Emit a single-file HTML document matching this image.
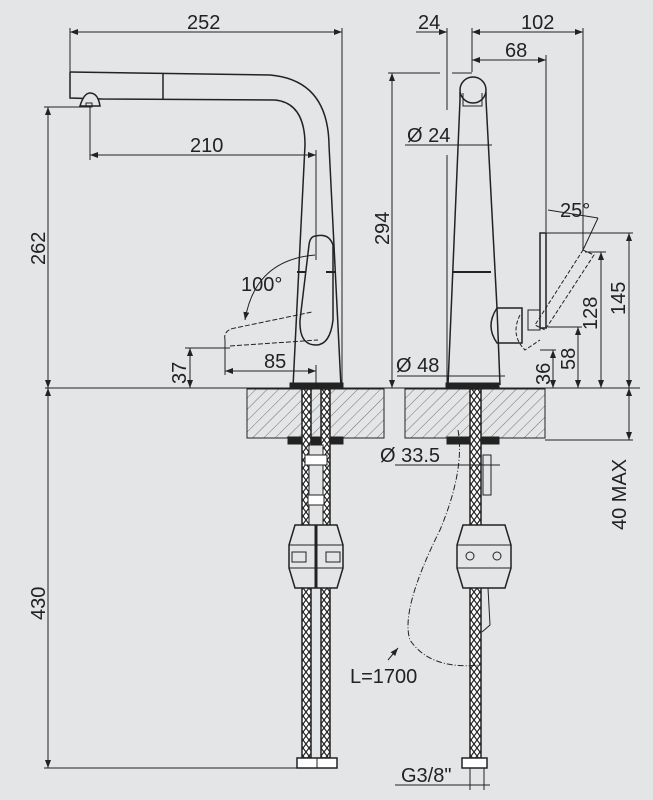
<!DOCTYPE html>
<html><head><meta charset="utf-8"><style>
html,body{margin:0;padding:0;background:#e4e5e7;}
svg{display:block}
text{font-family:"Liberation Sans",sans-serif;font-size:20px;fill:#222}
</style></head><body>
<svg width="653" height="800" viewBox="0 0 653 800" xmlns="http://www.w3.org/2000/svg">
<defs>
<pattern id="h" width="8" height="8" patternUnits="userSpaceOnUse" patternTransform="rotate(45)">
<rect width="8" height="8" fill="#e4e5e7"/><line x1="0" y1="0" x2="0" y2="8" stroke="#555" stroke-width="0.8"/></pattern>
<pattern id="br" width="6" height="8" patternUnits="userSpaceOnUse">
<rect width="6" height="8" fill="#fff"/><path d="M0 0L6 8M6 0L0 8" stroke="#222" stroke-width="1.2"/></pattern>
<marker id="a" markerWidth="8" markerHeight="6" refX="8" refY="3" orient="auto-start-reverse"><path d="M0 0L8 3L0 6z" fill="#222"/></marker>
</defs>
<g stroke="#222" stroke-width="1" fill="none">
<!-- counter -->
<line x1="45" y1="388" x2="640" y2="388"/>
<rect x="247" y="389" width="137" height="49" fill="url(#h)"/>
<rect x="405" y="389" width="140" height="49" fill="url(#h)"/>
<!-- left dims -->
<line x1="70" y1="28" x2="70" y2="72"/><line x1="342" y1="28" x2="342" y2="388"/>
<line x1="70" y1="32" x2="342" y2="32" marker-start="url(#a)" marker-end="url(#a)"/>
<line x1="48" y1="107" x2="48" y2="388" marker-start="url(#a)" marker-end="url(#a)"/>
<line x1="44" y1="107" x2="90" y2="107"/>
<line x1="48" y1="388" x2="48" y2="768" marker-start="url(#a)" marker-end="url(#a)"/>
<line x1="44" y1="768" x2="300" y2="768"/>
<line x1="90" y1="107" x2="90" y2="160"/>
<line x1="90" y1="155" x2="316" y2="155" marker-start="url(#a)" marker-end="url(#a)"/>
<line x1="316" y1="150" x2="316" y2="260"/>
<line x1="190" y1="348" x2="190" y2="388" marker-start="url(#a)" marker-end="url(#a)"/>
<line x1="185" y1="348" x2="230" y2="348"/>
<line x1="225" y1="340" x2="225" y2="375"/>
<line x1="225" y1="371" x2="316" y2="371" marker-start="url(#a)" marker-end="url(#a)"/>
<line x1="316" y1="365" x2="316" y2="388"/>
<!-- left faucet -->
<path d="M70 72 L270 75 Q328 80 329 145 L341 387" stroke-width="1.5"/>
<path d="M70 72 L70 98 L102 99 L275 100 Q305 103 305 145 L293 387" stroke-width="1.5"/>
<line x1="163" y1="74" x2="163" y2="100" stroke-width="1.5"/>
<path d="M80 106 Q84 93 90 93 Q98 93 100 106 Z" fill="#e4e5e7" stroke-width="1.5"/>
<rect x="86" y="103" width="6" height="4"/>
<rect x="290" y="383" width="53" height="5" fill="#222"/>
<path d="M316 236 Q329 233 333 245 L333 320 Q330 345 316 345 Q299 345 300 320 L309 245 Q310 236 316 236Z" stroke-width="1.5"/>
<line x1="297" y1="272" x2="306" y2="272" stroke-width="2"/><line x1="326" y1="272" x2="335" y2="272" stroke-width="2"/>
<path d="M225 340 Q223 330 235 328 L312 312" stroke-dasharray="5 2"/>
<path d="M230 346 L318 340" stroke-dasharray="5 2"/>
<path d="M315 255 Q255 260 245 320" marker-end="url(#a)"/>
<!-- right dims -->
<line x1="416" y1="32" x2="447" y2="32" marker-end="url(#a)"/>
<line x1="472" y1="32" x2="583" y2="32" marker-start="url(#a)" marker-end="url(#a)"/>
<line x1="447" y1="28" x2="447" y2="110"/><line x1="447" y1="155" x2="447" y2="388"/>
<line x1="472" y1="28" x2="472" y2="72"/>
<line x1="583" y1="28" x2="583" y2="250"/>
<line x1="472" y1="60" x2="546" y2="60" marker-start="url(#a)" marker-end="url(#a)"/>
<line x1="546" y1="55" x2="546" y2="232"/>
<line x1="388" y1="73" x2="440" y2="73"/><line x1="452" y1="73" x2="472" y2="73"/>
<line x1="392" y1="73" x2="392" y2="388" marker-start="url(#a)" marker-end="url(#a)"/>
<line x1="405" y1="145" x2="492" y2="145"/>
<line x1="397" y1="376" x2="505" y2="376"/>
<line x1="540" y1="233" x2="633" y2="233"/>
<line x1="629" y1="233" x2="629" y2="388" marker-start="url(#a)" marker-end="url(#a)"/>
<line x1="585" y1="252" x2="606" y2="252"/>
<line x1="601" y1="252" x2="601" y2="388" marker-start="url(#a)" marker-end="url(#a)"/>
<line x1="548" y1="327" x2="582" y2="327"/>
<line x1="578" y1="327" x2="578" y2="388" marker-start="url(#a)" marker-end="url(#a)"/>
<line x1="540" y1="350" x2="556" y2="350"/>
<line x1="553" y1="350" x2="553" y2="388" marker-start="url(#a)" marker-end="url(#a)"/>
<line x1="629" y1="388" x2="629" y2="440" marker-start="url(#a)" marker-end="url(#a)"/>
<line x1="545" y1="440" x2="633" y2="440"/>
<line x1="548" y1="210" x2="598" y2="218"/>
<line x1="598" y1="218" x2="583" y2="250"/>
<!-- right faucet -->
<circle cx="473" cy="90" r="13" stroke-width="1.5"/>
<path d="M460 92 L460 100 L448 385 M486 92 L486 100 L497 308 L500 385" stroke-width="1.5"/>
<path d="M463 93 L463 106 L482 106 L482 93"/>
<line x1="453" y1="272" x2="491" y2="272" stroke-width="2"/>
<path d="M497 308 L522 308 L522 343 L497 343 Q485 326 497 308Z" stroke-width="1.5"/>
<rect x="540" y="233" width="6" height="95" stroke-width="1.5"/>
<path d="M528 310 L540 310 L540 330 L528 330Z"/>
<path d="M583 250 L594 255 L545 330 L535 325Z" stroke-dasharray="4 2"/>
<path d="M520 315 Q510 335 525 350 L540 340" stroke-dasharray="4 2"/>
<rect x="446" y="383" width="53" height="5" fill="#222"/>
<!-- hoses left -->
<rect x="288" y="437" width="55" height="7" fill="#222"/>
<rect x="302" y="389" width="9" height="369" fill="url(#br)" stroke-width="1.5"/>
<rect x="321" y="389" width="9" height="369" fill="url(#br)" stroke-width="1.5"/>
<rect x="309" y="445" width="14" height="80" fill="#e4e5e7"/>
<rect x="305" y="455" width="22" height="10" fill="#fff"/>
<rect x="308" y="495" width="16" height="10" fill="#fff"/>
<path d="M295 525 L337 525 L343 545 L343 568 L337 588 L295 588 L289 568 L289 545Z" fill="#e4e5e7" stroke-width="1.5"/>
<line x1="316" y1="525" x2="316" y2="588" stroke-width="3"/>
<line x1="289" y1="545" x2="343" y2="545"/><line x1="289" y1="568" x2="343" y2="568"/>
<rect x="292" y="552" width="14" height="10"/><rect x="326" y="552" width="14" height="10"/>
<rect x="297" y="758" width="40" height="10" fill="#fff" stroke-width="1.5"/>
<line x1="317" y1="758" x2="317" y2="768"/>
<!-- hoses right -->
<rect x="447" y="437" width="52" height="7" fill="#222"/>
<rect x="470" y="389" width="11" height="369" fill="url(#br)" stroke-width="1.5"/>
<rect x="483" y="455" width="8" height="40"/>
<path d="M463 525 L505 525 L511 545 L511 568 L505 588 L463 588 L457 568 L457 545Z" fill="#e4e5e7" stroke-width="1.5"/>
<line x1="457" y1="545" x2="511" y2="545"/><line x1="457" y1="568" x2="511" y2="568"/>
<circle cx="470" cy="556" r="4"/><circle cx="497" cy="556" r="4"/>
<path d="M488 588 L490 625 L482 632"/>
<rect x="462" y="758" width="25" height="10" fill="#fff" stroke-width="1.5"/>
<path d="M458 430 Q465 470 440 530 Q400 610 410 640 Q430 670 480 665" stroke-dasharray="6 2 1 2"/>
<line x1="395" y1="465" x2="500" y2="465"/>
<line x1="395" y1="785" x2="490" y2="785"/>
<line x1="470" y1="768" x2="470" y2="790"/><line x1="484" y1="768" x2="484" y2="790"/>
<line x1="398" y1="648" x2="388" y2="660" marker-start="url(#a)"/>
</g>
<text x="187" y="29">252</text>
<text x="190" y="152">210</text>
<text x="241" y="291">100°</text>
<text x="264" y="368">85</text>
<text transform="translate(45,265) rotate(-90)">262</text>
<text transform="translate(186,384) rotate(-90)">37</text>
<text transform="translate(45,620) rotate(-90)">430</text>
<text x="418" y="29">24</text>
<text x="521" y="29">102</text>
<text x="505" y="57">68</text>
<text x="407" y="142">Ø 24</text>
<text transform="translate(389,245) rotate(-90)">294</text>
<text x="560" y="217">25°</text>
<text transform="translate(625,315) rotate(-90)">145</text>
<text transform="translate(597,330) rotate(-90)">128</text>
<text transform="translate(575,370) rotate(-90)">58</text>
<text transform="translate(550,385) rotate(-90)">36</text>
<text x="396" y="372">Ø 48</text>
<text x="380" y="462">Ø 33.5</text>
<text transform="translate(626,530) rotate(-90)">40 MAX</text>
<text x="350" y="683">L=1700</text>
<text x="401" y="782">G3/8"</text>
</svg>
</body></html>
